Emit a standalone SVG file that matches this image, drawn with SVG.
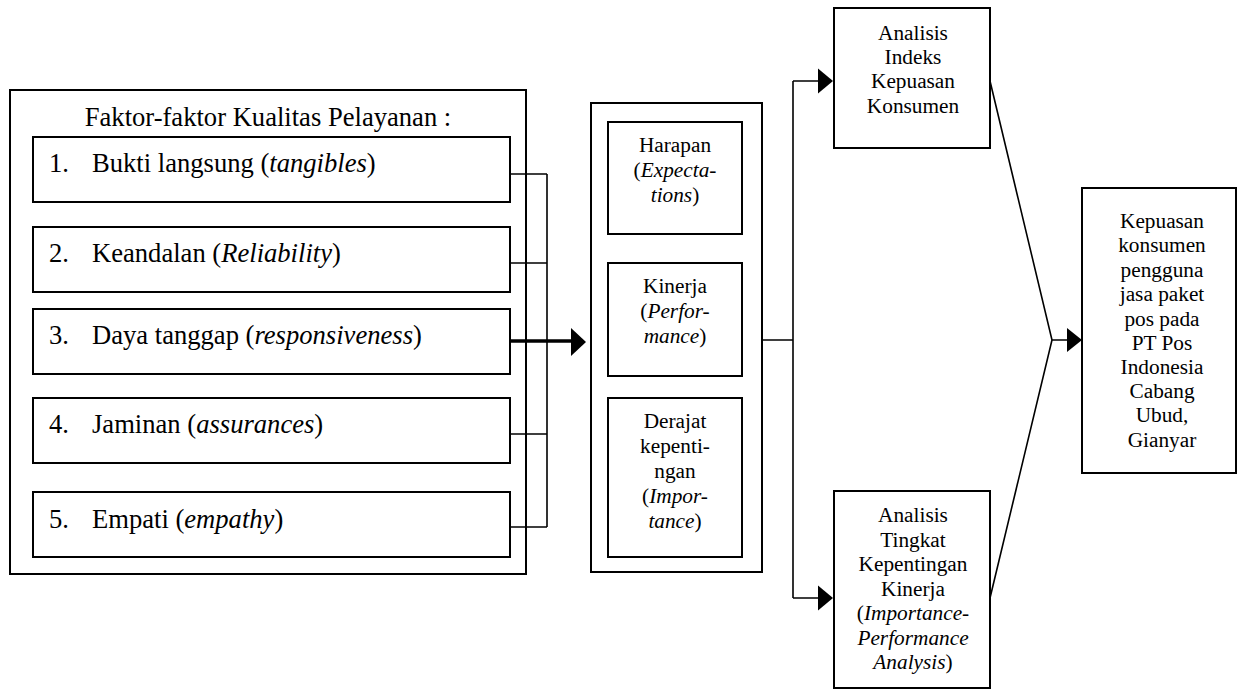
<svg xmlns="http://www.w3.org/2000/svg" width="1247" height="700" viewBox="0 0 1247 700" font-family="Liberation Serif, serif">
<style>
.box{fill:#fff;stroke:#000;stroke-width:2}
.ln{fill:none;stroke:#000;stroke-width:1.6}
.thick{fill:none;stroke:#000;stroke-width:3.5}
.ah{fill:#000;stroke:none}
text{font-family:'Liberation Serif',serif;fill:#000}
.big{font-size:26.6px}
.sm{font-size:21.3px;text-anchor:middle}
.i{font-style:italic}
</style>
<g id="faktor">
<rect class="box" x="10" y="90" width="516" height="484"/>
<text class="big" x="268" y="126" text-anchor="middle">Faktor-faktor Kualitas Pelayanan :</text>
</g>
<g id="f1">
<rect class="box" x="33" y="137" width="477" height="65"/>
<text class="big" x="49" y="172">1.</text>
<text class="big" x="92" y="172">Bukti langsung (<tspan class="i">tangibles</tspan>)</text>
</g>
<g id="f2">
<rect class="box" x="33" y="227" width="477" height="65"/>
<text class="big" x="49" y="262">2.</text>
<text class="big" x="92" y="262">Keandalan (<tspan class="i">Reliability</tspan>)</text>
</g>
<g id="f3">
<rect class="box" x="33" y="309" width="477" height="65"/>
<text class="big" x="49" y="344">3.</text>
<text class="big" x="92" y="344">Daya tanggap (<tspan class="i">responsiveness</tspan>)</text>
</g>
<g id="f4">
<rect class="box" x="33" y="398" width="477" height="65"/>
<text class="big" x="49" y="433">4.</text>
<text class="big" x="92" y="433">Jaminan (<tspan class="i">assurances</tspan>)</text>
</g>
<g id="f5">
<rect class="box" x="33" y="492" width="477" height="65"/>
<text class="big" x="49" y="528">5.</text>
<text class="big" x="92" y="528">Empati (<tspan class="i">empathy</tspan>)</text>
</g>
<g id="middle">
<rect class="box" x="591" y="103" width="171" height="469"/>
</g>
<g id="harapan">
<rect class="box" x="608" y="122" width="134" height="112"/>
<text class="sm" x="675" y="152">Harapan</text>
<text class="sm" x="675" y="177">(<tspan class="i">Expecta-</tspan></text>
<text class="sm" x="675" y="202"><tspan class="i">tions</tspan>)</text>
</g>
<g id="kinerja">
<rect class="box" x="608" y="263" width="134" height="113"/>
<text class="sm" x="675" y="293">Kinerja</text>
<text class="sm" x="675" y="318">(<tspan class="i">Perfor-</tspan></text>
<text class="sm" x="675" y="343"><tspan class="i">mance</tspan>)</text>
</g>
<g id="derajat">
<rect class="box" x="608" y="398" width="134" height="159"/>
<text class="sm" x="675" y="428">Derajat</text>
<text class="sm" x="675" y="453">kepenti-</text>
<text class="sm" x="675" y="478">ngan</text>
<text class="sm" x="675" y="503">(<tspan class="i">Impor-</tspan></text>
<text class="sm" x="675" y="528"><tspan class="i">tance</tspan>)</text>
</g>
<g id="ikk">
<rect class="box" x="834" y="8" width="156" height="140"/>
<text class="sm" x="913" y="40">Analisis</text>
<text class="sm" x="913" y="64">Indeks</text>
<text class="sm" x="913" y="88">Kepuasan</text>
<text class="sm" x="913" y="113">Konsumen</text>
</g>
<g id="ipa">
<rect class="box" x="834" y="491" width="156" height="197"/>
<text class="sm" x="913" y="522">Analisis</text>
<text class="sm" x="913" y="547">Tingkat</text>
<text class="sm" x="913" y="571">Kepentingan</text>
<text class="sm" x="913" y="596">Kinerja</text>
<text class="sm" x="913" y="620">(<tspan class="i">Importance-</tspan></text>
<text class="sm" x="913" y="645"><tspan class="i">Performance</tspan></text>
<text class="sm" x="913" y="669"><tspan class="i">Analysis</tspan>)</text>
</g>
<g id="kepuasan">
<rect class="box" x="1082" y="188" width="154" height="285"/>
<text class="sm" x="1162" y="228">Kepuasan</text>
<text class="sm" x="1162" y="252">konsumen</text>
<text class="sm" x="1162" y="277">pengguna</text>
<text class="sm" x="1162" y="301">jasa paket</text>
<text class="sm" x="1162" y="326">pos pada</text>
<text class="sm" x="1162" y="350">PT Pos</text>
<text class="sm" x="1162" y="374">Indonesia</text>
<text class="sm" x="1162" y="398">Cabang</text>
<text class="sm" x="1162" y="422">Ubud,</text>
<text class="sm" x="1162" y="447">Gianyar</text>
</g>
<g id="connectors">
<path class="ln" d="M510 174H547M510 263H547M510 434H547M510 527H547M547 174V527"/>
<path class="thick" d="M510 341H572"/>
<polygon class="ah" points="571,328 586,342 571,356"/>
<path class="ln" d="M762 340H793M793 81V598M793 81H819M793 598H819"/>
<polygon class="ah" points="818,68.5 833,81 818,93.5"/>
<polygon class="ah" points="818,585.5 833,598 818,610.5"/>
<path class="ln" d="M990 81L1052 340L990 598M1052 340H1068"/>
<polygon class="ah" points="1067,328 1082,340 1067,352"/>
</g>
</svg>
